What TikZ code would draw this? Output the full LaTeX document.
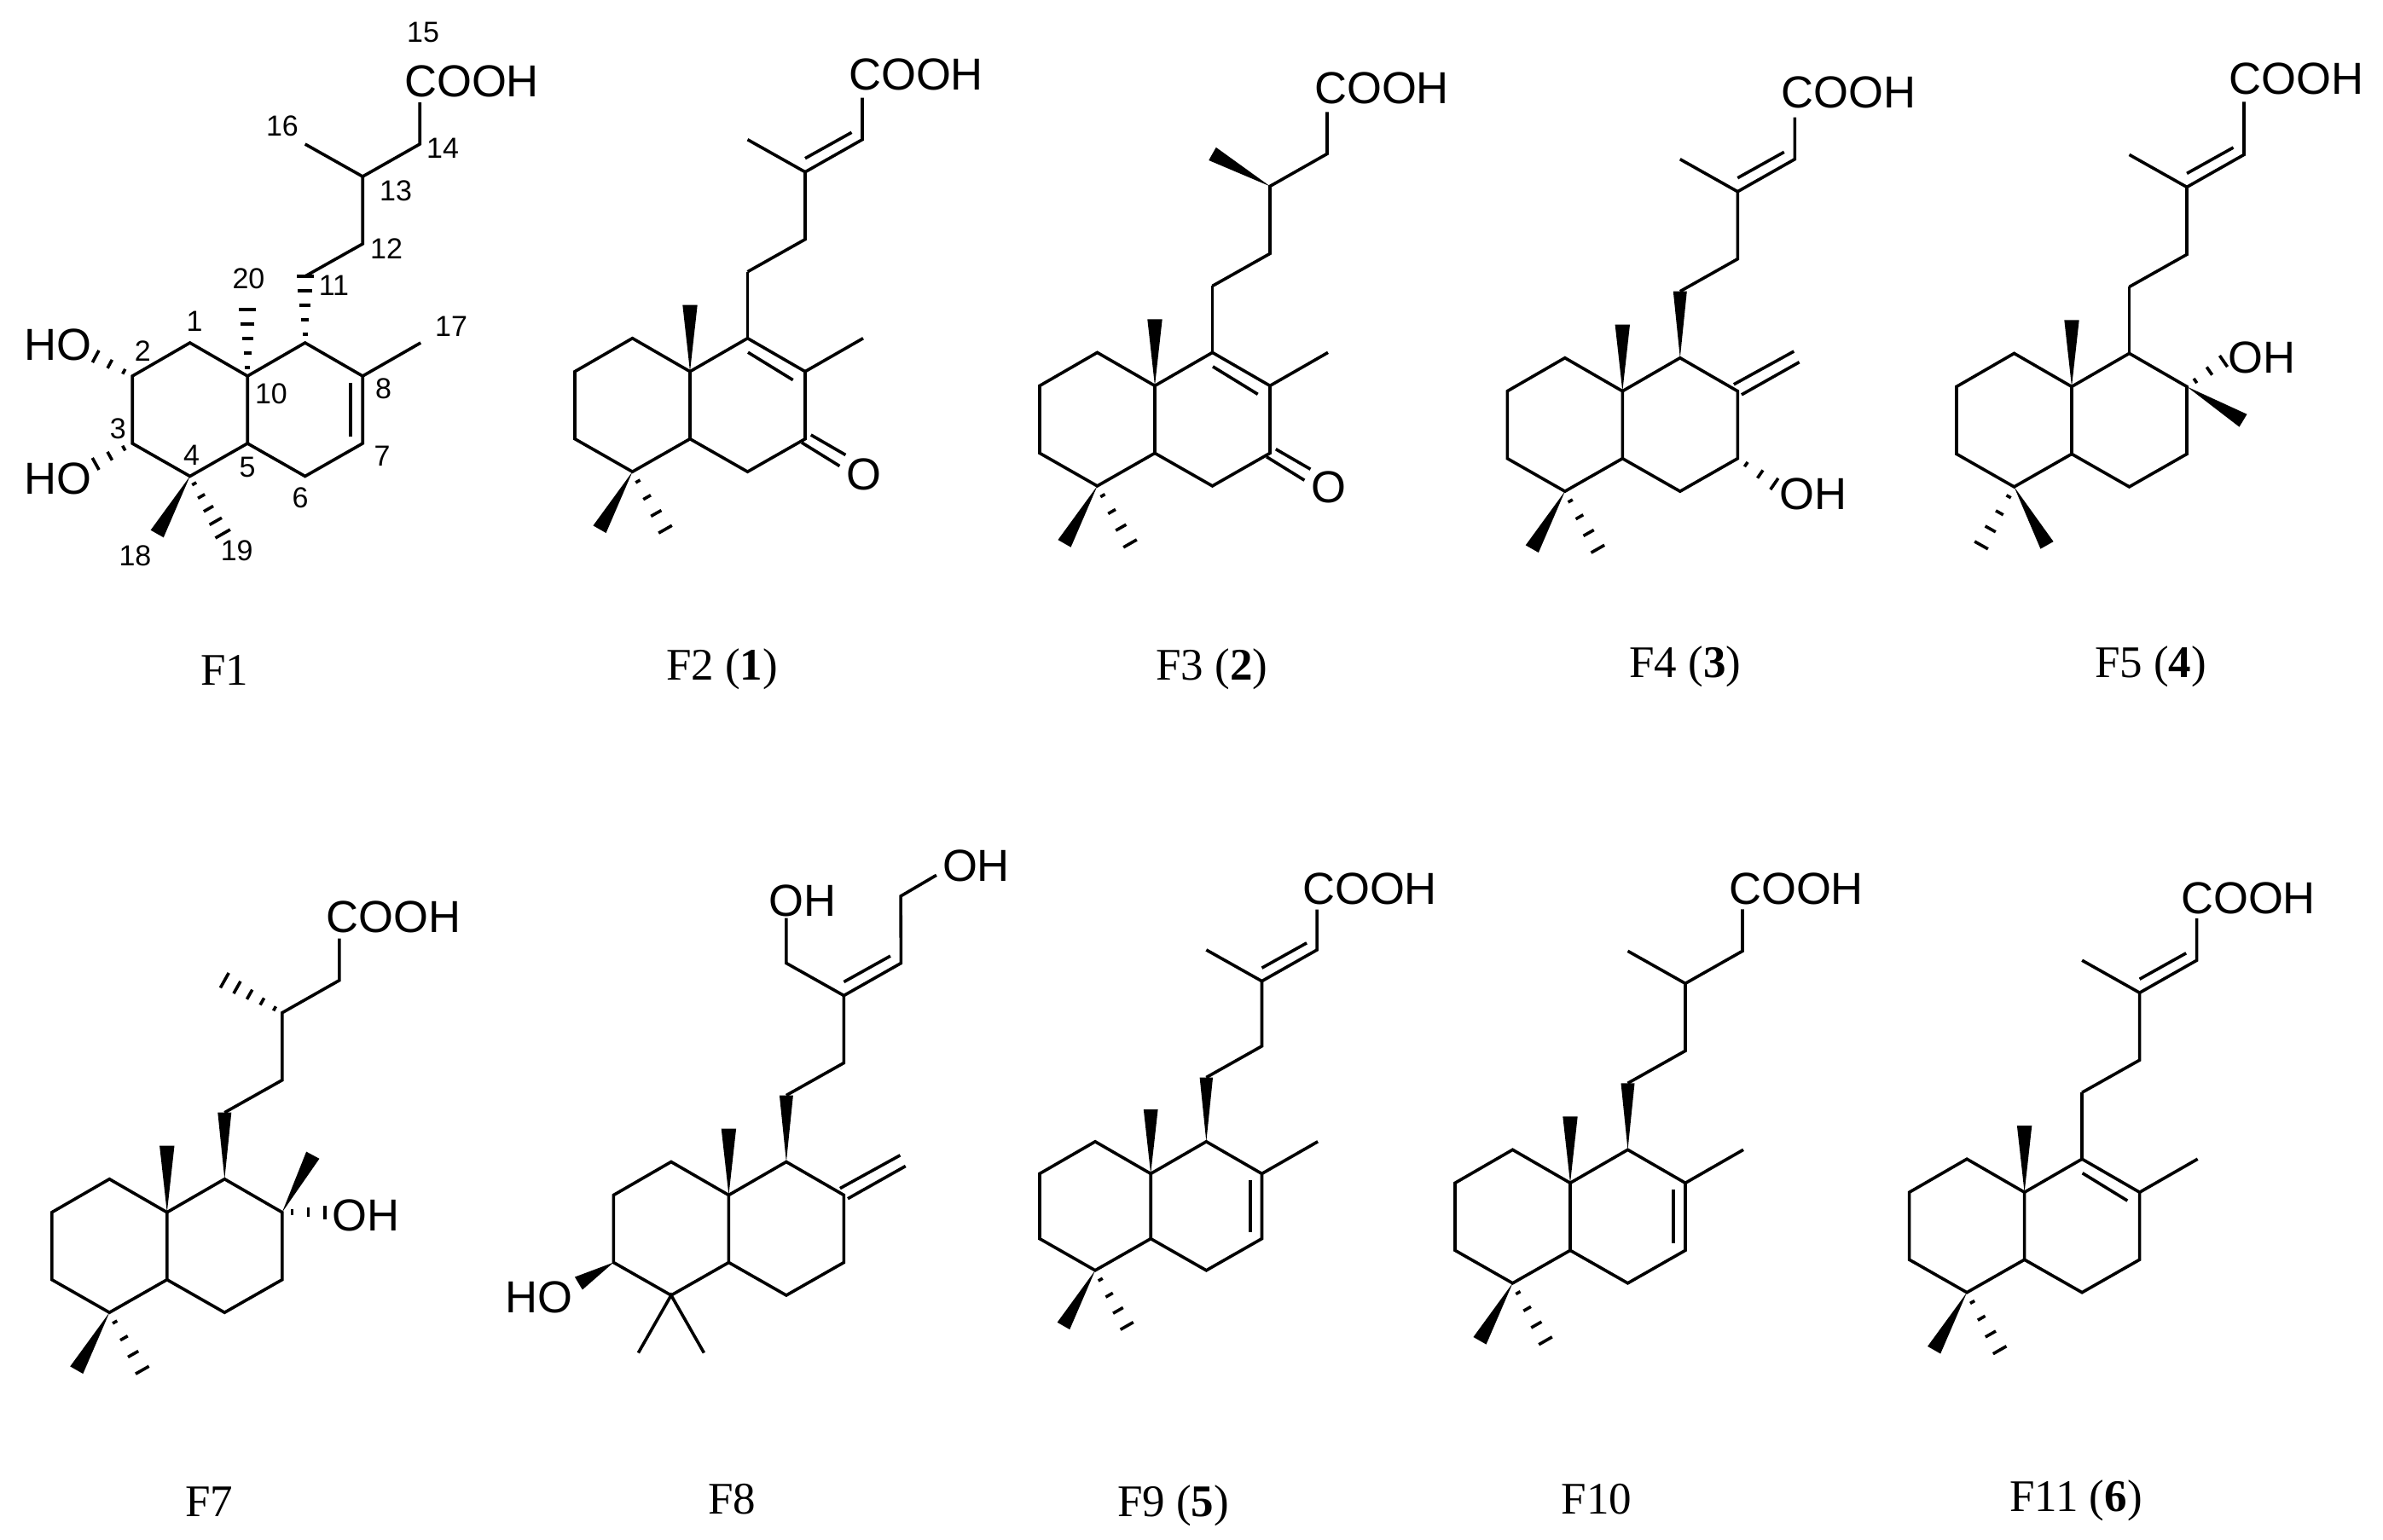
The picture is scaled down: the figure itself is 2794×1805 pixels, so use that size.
\documentclass[tikz,border=0pt]{standalone}
\usepackage{fontspec}
\setmainfont{Liberation Sans}
\newfontfamily\labfont{Liberation Serif}
\usetikzlibrary{calc}
\tikzset{
  bond/.style={line width=3.6pt,line join=miter,line cap=butt},
  atomtext/.style={inner sep=0pt,font=\fontsize{52.6}{60}\selectfont},
  numtext/.style={inner sep=0pt,font=\fontsize{34}{40}\selectfont},
  captext/.style={inner sep=0pt,anchor=base,font=\labfont\fontsize{53}{60}\selectfont}
}
% template of the labdane skeleton, relative to C10
\newcommand{\skel}{%
  \coordinate (C10) at (0,0);
  \coordinate (C1) at (-67.5,-39);
  \coordinate (C2) at (-135,0);
  \coordinate (C3) at (-135,79);
  \coordinate (C4) at (-67.5,117.5);
  \coordinate (C5) at (0,79);
  \coordinate (C9) at (67.5,-39);
  \coordinate (C8) at (135,0);
  \coordinate (C7) at (135,79);
  \coordinate (C6) at (67.5,117.5);
  \coordinate (C11) at (67.5,-117);
  \coordinate (C12) at (135,-155);
  \coordinate (C13) at (135,-234);
  \coordinate (C14) at (202,-272);
  \coordinate (Ctop) at (202,-321);
  \coordinate (C16) at (67.5,-272);
  \coordinate (C17) at (203,-39);
  \coordinate (C20) at (0,-78);
  \coordinate (C18) at (-106,185);
  \coordinate (C19) at (-29,185);
}
\newcommand{\ringbonds}{%
  \draw[bond] (C10)--(C1)--(C2)--(C3)--(C4)--(C5)--cycle;
  \draw[bond] (C10)--(C9)--(C8)--(C7)--(C6)--(C5);
}
\newcommand{\chainbonds}{%
  \draw[bond] (C11)--(C12)--(C13)--(C14)--(Ctop);
  \draw[bond] (C13)--(C16);
}
% solid wedge: narrow end, wide end, half width
\newcommand{\wdg}[3]{%
  \fill (#1) -- ($(#2)!#3pt!90:(#1)$) -- ($(#2)!#3pt!-90:(#1)$) -- cycle;
}
% hashed bond: narrow end, wide end, number of marks, half width
\newcommand{\hsh}[4]{%
  \foreach \ii in {1,...,#3}{%
    \pgfmathsetmacro{\tt}{(\ii-0.4)/(#3-0.4)}%
    \pgfmathsetmacro{\ww}{1.8+(#4-1.8)*\tt}%
    \draw[line width=3.6pt] ($($(#1)!\tt!(#2)$)!\ww pt!90:(#1)$) -- ($($(#1)!\tt!(#2)$)!\ww pt!-90:(#1)$);
  }%
}
\newcommand{\dblsc}{\draw[bond] (135,-250) -- (189.5,-280.4);}% C13=C14
\newcommand{\dblnine}{\draw[bond] (68,-22.5) -- (120.7,9.9);}% C9=C8
\newcommand{\dblseven}{\draw[bond] (121,8) -- (121,71);}% C7=C8
\newcommand{\keto}{%
  \draw[bond] (141.8,74.3) -- (182.4,97.8);
  \draw[bond] (131,83.3) -- (175.4,110.8);
}
\newcommand{\exo}{%
  \draw[bond] (130.5,-7.9) -- (201,-46.7);
  \draw[bond] (139.6,4.2) -- (207.3,-34);
}
\begin{document}
\begin{tikzpicture}[x=1pt,y=-1pt]
\fill[white] (0,0) rectangle (2794,1805);
\useasboundingbox (0,0) rectangle (2794,1805);

% ---------- F1
\begin{scope}[shift={(290.2,441)}]
  \skel \ringbonds \chainbonds
  \draw[bond] (C8)--(C17);
  \dblseven
  \hsh{C10}{C20}{5}{10}
  \hsh{C9}{C11}{5}{10}
  \wdg{C4}{C18}{8.7}
  \hsh{C4}{C19}{5}{10}
  \coordinate (Ho2) at (-178,-23);
  \coordinate (Ho3) at (-178,103);
  \hsh{C2}{Ho2}{3}{8}
  \hsh{C3}{Ho3}{3}{8}
\end{scope}
\node[atomtext] (a1cooh) at (553,95) {COOH};
\node[atomtext] (a1ho2) at (68,404) {HO};
\node[atomtext] (a1ho3) at (68,561) {HO};
\node[numtext] (n15) at (496,38) {15};
\node[numtext] (n16) at (331,147.5) {16};
\node[numtext] (n14) at (519,174) {14};
\node[numtext] (n13) at (464,224) {13};
\node[numtext] (n12) at (453,292) {12};
\node[numtext] (n11) at (391.5,335) {11};
\node[numtext] (n20) at (291.5,327) {20};
\node[numtext] (n17) at (529,383) {17};
\node[numtext] (n1) at (228,376.5) {1};
\node[numtext] (n2) at (167.4,411.6) {2};
\node[numtext] (n3) at (138.4,503) {3};
\node[numtext] (n4) at (224.5,533.5) {4};
\node[numtext] (n5) at (290,548) {5};
\node[numtext] (n10) at (318,462) {10};
\node[numtext] (n8) at (449.5,456) {8};
\node[numtext] (n7) at (448,535) {7};
\node[numtext] (n6) at (352,584) {6};
\node[numtext] (n18) at (158.5,652) {18};
\node[numtext] (n19) at (277.7,646) {19};
\node[captext] (capa) at (263,803) {F1};

% ---------- F2
\begin{scope}[shift={(809,435.7)}]
  \skel \ringbonds \chainbonds
  \draw[bond] (C9)--(C11);
  \draw[bond] (C8)--(C17);
  \dblnine \dblsc \keto
  \wdg{C10}{C20}{8.7}
  \wdg{C4}{C18}{8.7}
  \hsh{C4}{C19}{4}{9}
\end{scope}
\node[atomtext] (a2cooh) at (1074,87.5) {COOH};
\node[atomtext] (a2o) at (1012.5,556) {O};
\node[captext] (capb) at (846.6,797.6) {F2 (\textbf{1})};

% ---------- F3
\begin{scope}[shift={(1354,452.4)}]
  \skel \ringbonds
  \draw[bond] (C11)--(C12)--(C13)--(C14)--(Ctop);
  \draw[bond] (C9)--(C11);
  \draw[bond] (C8)--(C17);
  \dblnine \keto
  \wdg{C13}{C16}{8.7}
  \wdg{C10}{C20}{8.7}
  \wdg{C4}{C18}{8.7}
  \hsh{C4}{C19}{4}{9}
\end{scope}
\node[atomtext] (a3cooh) at (1620,103) {COOH};
\node[atomtext] (a3o) at (1557.5,571.7) {O};
\node[captext] (capc) at (1421,797.6) {F3 (\textbf{2})};

% ---------- F4
\begin{scope}[shift={(1902.3,458.7)}]
  \skel \ringbonds \chainbonds
  \exo \dblsc
  \wdg{C9}{C11}{8}
  \wdg{C10}{C20}{8.7}
  \wdg{C4}{C18}{8.7}
  \hsh{C4}{C19}{4}{9}
  \coordinate (Oh7) at (178,108.8);
  \hsh{C7}{Oh7}{3}{8}
\end{scope}
\node[atomtext] (a4cooh) at (2167.5,108.6) {COOH};
\node[atomtext] (a4oh) at (2126,579) {OH};
\node[captext] (capd) at (1975.7,794) {F4 (\textbf{3})};

% ---------- F5
\begin{scope}[shift={(2429,453.4)}]
  \skel
  \coordinate (Ctop) at (202,-334);
  \coordinate (C18) at (-29,186);
  \coordinate (C19) at (-106,186);
  \coordinate (Oh8) at (178,-29.8);
  \coordinate (Me8) at (201,39.8);
  \ringbonds \chainbonds
  \draw[bond] (C9)--(C11);
  \dblsc
  \wdg{C8}{Me8}{8.7}
  \hsh{C8}{Oh8}{3}{8}
  \wdg{C10}{C20}{8.7}
  \wdg{C4}{C18}{8.7}
  \hsh{C4}{C19}{4}{9}
\end{scope}
\node[atomtext] (a5cooh) at (2692.6,92.5) {COOH};
\node[atomtext] (a5oh) at (2652.4,419) {OH};
\node[captext] (cape) at (2521.5,794) {F5 (\textbf{4})};

% ---------- F7
\begin{scope}[shift={(195.8,1421.7)}]
  \skel
  \coordinate (Me8) at (171,-67);
  \coordinate (Oh8) at (185,0);
  \ringbonds
  \draw[bond] (C11)--(C12)--(C13)--(C14)--(Ctop);
  \wdg{C9}{C11}{8}
  \hsh{C13}{C16}{5}{10}
  \wdg{C8}{Me8}{8.7}
  \hsh{C8}{Oh8}{3}{8}
  \wdg{C10}{C20}{8.7}
  \wdg{C4}{C18}{8.7}
  \hsh{C4}{C19}{4}{9}
\end{scope}
\node[atomtext] (a7cooh) at (461.7,1075) {COOH};
\node[atomtext] (a7oh) at (429,1425) {OH};
\node[captext] (capf) at (245,1778) {F7};

% ---------- F8
\begin{scope}[shift={(854.4,1401.5)}]
  \skel
  \coordinate (Ctop) at (201.7,-350.6);
  \coordinate (Oa) at (243.5,-375.2);
  \coordinate (Ob) at (67.5,-325);
  \coordinate (Ho3) at (-176,103.5);
  \ringbonds
  \draw[bond] (C11)--(C12)--(C13)--(C14)--(Ctop)--(Oa);
  \draw[bond] (Ob)--(C16)--(C13);
  \exo \dblsc
  \wdg{C9}{C11}{8}
  \wdg{C10}{C20}{8.7}
  \wdg{C3}{Ho3}{8.7}
  \draw[bond] (C18)--(C4)--(C19);
\end{scope}
\node[atomtext] (a8oha) at (1144.5,1015) {OH};
\node[atomtext] (a8ohb) at (941,1056) {OH};
\node[atomtext] (a8ho) at (631.5,1521.7) {HO};
\node[captext] (capg) at (858,1775) {F8};

% ---------- F9
\begin{scope}[shift={(1349.2,1376.4)},scale=.965]
  \skel \ringbonds \chainbonds
  \draw[bond] (C8)--(C17);
  \dblseven \dblsc
  \wdg{C9}{C11}{8}
  \wdg{C10}{C20}{8.7}
  \wdg{C4}{C18}{8.7}
  \hsh{C4}{C19}{4}{9}
\end{scope}
\node[atomtext] (a9cooh) at (1606,1042) {COOH};
\node[captext] (caph) at (1375.5,1778) {F9 (\textbf{5})};

% ---------- F10
\begin{scope}[shift={(1841,1387.3)}]
  \skel \ringbonds \chainbonds
  \draw[bond] (C8)--(C17);
  \dblseven
  \wdg{C9}{C11}{8}
  \wdg{C10}{C20}{8.7}
  \wdg{C4}{C18}{8.7}
  \hsh{C4}{C19}{4}{9}
\end{scope}
\node[atomtext] (a10cooh) at (2106,1042) {COOH};
\node[captext] (capi) at (1872,1775) {F10};

% ---------- F11
\begin{scope}[shift={(2373.6,1398.2)}]
  \skel \ringbonds \chainbonds
  \draw[bond] (C9)--(C11);
  \draw[bond] (C8)--(C17);
  \dblnine \dblsc
  \wdg{C10}{C20}{8.7}
  \wdg{C4}{C18}{8.7}
  \hsh{C4}{C19}{4}{9}
\end{scope}
\node[atomtext] (a11cooh) at (2636,1053) {COOH};
\node[captext] (capj) at (2434,1772) {F11 (\textbf{6})};
\end{tikzpicture}
\end{document}
